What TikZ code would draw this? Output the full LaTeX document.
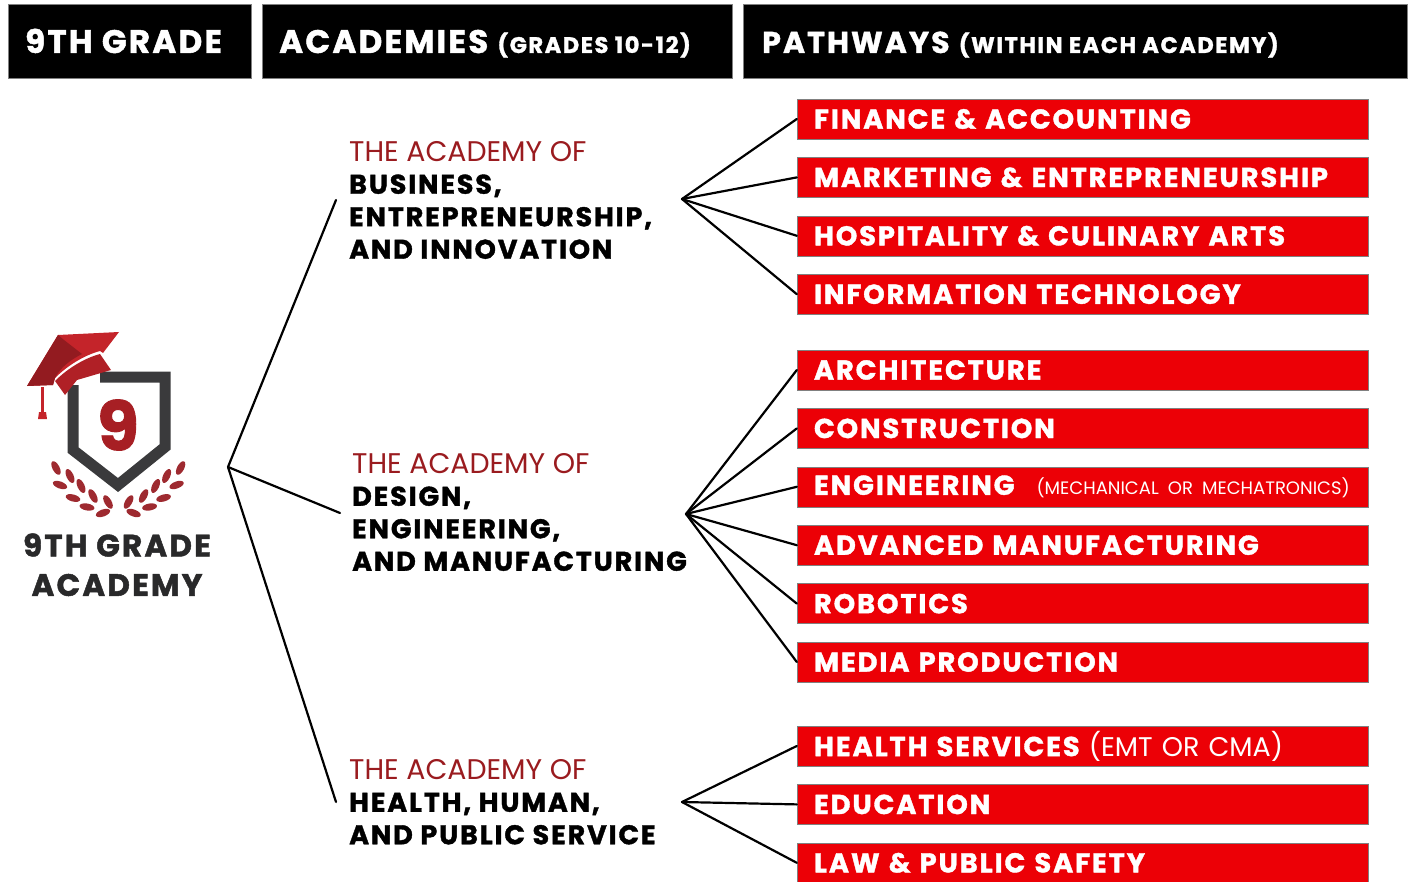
\documentclass[tikz,border=0pt]{standalone}
\usepackage{fontspec}
\setmainfont{Poppins}
\newfontfamily\heavyfont[FakeBold=1.4, LetterSpace=7]{Poppins Bold}
\usetikzlibrary{positioning}
\definecolor{pathred}{HTML}{EC0006}
\definecolor{titlered}{HTML}{9A1B1F}
\definecolor{logored}{HTML}{C4242A}
\definecolor{leafred}{HTML}{9E2A30}
\definecolor{logodark}{HTML}{3A3A3C}
\tikzset{
	>=stealth,
	headbox/.style={
		rectangle,
		fill=black,
		draw=gray,
		thin,
		minimum height=74pt,
		anchor=west,
		text=white},
	headtext/.style={
		anchor=base west,
		text=white,
		inner sep=0pt,
		font=\heavyfont\fontsize{32.5}{32}\selectfont},
	pathway/.style={
		rectangle,
		fill=pathred,
		draw=gray,
		thin,
		minimum width=571pt,
		minimum height=40pt,
		text width=537pt,
		inner sep=0pt,
		align=left,
		text=white,
		font=\heavyfont\fontsize{27.3}{27}\selectfont},
	academy/.style={
		anchor=north west,
		inner sep=0pt,
		align=left,
		font=\heavyfont\fontsize{27}{32.5}\selectfont},
	link/.style={draw, line width=2.2pt, line cap=round},
	leaf/.style={fill=leafred, draw=none},
	logotext/.style={inner sep=0pt, text=logodark!70!black, font=\heavyfont\fontsize{31}{31}\selectfont},
}
\newcommand{\academytitle}{{\color{titlered}\fontspec{Poppins}\fontsize{28.4}{32.5}\selectfont THE ACADEMY OF}}
\begin{document}
\begin{tikzpicture}[x=1pt,y=-1pt,node distance=18pt]
\useasboundingbox (0,0) rectangle (1413,882);
\node[headbox, minimum width=243pt] (grade) at (8,41) {};
\node[headbox, minimum width=470pt] (academies) at (262,41) {};
\node[headbox, minimum width=664pt] (pathways) at (743,41) {};
\node[headtext] (gradetext) at (25,53) {9TH GRADE};
\node[headtext] (academiestext) at (279,53) {ACADEMIES {\fontsize{22.5}{24}\selectfont (GRADES 10-12)}};
\node[headtext] (pathwaystext) at (762,53) {{\fontsize{30}{32}\selectfont PATHWAYS} {\fontsize{22.5}{24}\selectfont (WITHIN EACH ACADEMY)}};

\node[academy] (business) at (349,141) {\academytitle\\BUSINESS,\\ENTREPRENEURSHIP,\\AND INNOVATION};
\node[academy] (design) at (352,453) {\academytitle\\DESIGN,\\ENGINEERING,\\AND MANUFACTURING};
\node[academy] (health) at (349,759) {\academytitle\\HEALTH, HUMAN,\\AND PUBLIC SERVICE};

\node[pathway] (finance) at (1082.5,119) {FINANCE \& ACCOUNTING};
\node[pathway, below=of finance] (marketing) {MARKETING \& ENTREPRENEURSHIP};
\node[pathway, below=of marketing] (hospitality) {HOSPITALITY \& CULINARY ARTS};
\node[pathway, below=of hospitality] (information) {INFORMATION TECHNOLOGY};

\node[pathway] (architecture) at (1082.5,370) {ARCHITECTURE};
\node[pathway, below=of architecture] (construction) {CONSTRUCTION};
\node[pathway, below=of construction] (engineering) {ENGINEERING\hspace{22pt}{\fontspec{Poppins}\fontsize{18}{18}\selectfont (MECHANICAL OR MECHATRONICS)}};
\node[pathway, below=of engineering] (manufacturing) {ADVANCED MANUFACTURING};
\node[pathway, below=of manufacturing] (robotics) {ROBOTICS};
\node[pathway, below=of robotics] (media) {MEDIA PRODUCTION};

\node[pathway] (services) at (1082.5,746) {HEALTH SERVICES {\fontspec{Poppins}\fontsize{27}{27}\selectfont (EMT OR CMA)}};
\node[pathway, below=of services] (education) {EDUCATION};
\node[pathway, below=of education] (law) {LAW \& PUBLIC SAFETY};

\coordinate (rootfan) at (228,467);
\coordinate (businessin) at (336,200);
\coordinate (designin) at (340,513);
\coordinate (healthin) at (336,802);
\coordinate (businessfan) at (682,199);
\coordinate (designfan) at (686,514);
\coordinate (healthfan) at (682,802);

\draw[link] (rootfan) -- (businessin);
\draw[link] (rootfan) -- (designin);
\draw[link] (rootfan) -- (healthin);
\draw[link] (businessfan) -- (finance.west);
\draw[link] (businessfan) -- (marketing.west);
\draw[link] (businessfan) -- (hospitality.west);
\draw[link] (businessfan) -- (information.west);
\draw[link] (designfan) -- (architecture.west);
\draw[link] (designfan) -- (construction.west);
\draw[link] (designfan) -- (engineering.west);
\draw[link] (designfan) -- (manufacturing.west);
\draw[link] (designfan) -- (robotics.west);
\draw[link] (designfan) -- (media.west);
\draw[link] (healthfan) -- (services.west);
\draw[link] (healthfan) -- (education.west);
\draw[link] (healthfan) -- (law.west);

% logo
\draw[logodark, line width=11pt, line join=miter] (100,377) -- (165,377) -- (165,447) -- (118,485) -- (73,450) -- (73,385);
\fill[logored] (27,386) -- (58,335) -- (119,332) -- (103,353) -- (100,351) .. controls (85,355) and (68,365) .. (55,378) -- (53,385) -- cycle;
\fill[logored!75!black] (58,335) -- (64,340) -- (82,354) .. controls (70,360) and (60,368) .. (55,378) -- (53,385) -- (27,386) -- cycle;
\fill[logored!90!black] (55,381) .. controls (68,368) and (85,358) .. (100,354) -- (111,370) -- (77,380) -- (65,395) -- cycle;
\draw[logored, line width=3.5pt] (42.7,387) -- (42.7,414);
\fill[logored] (38,419) -- (39,412) -- (46,412) -- (47,419) -- cycle;
\node[inner sep=0pt, text=logored!85!black, font=\heavyfont\fontsize{68}{68}\selectfont] (nine) at (118,425) {9};
\foreach \lx/\ly/\la in {56/468/-62,70/476/-65,81/486/-65,93/496/-62,108/502/-60,60/485/-20,73/498/-15,87/507/-10,103/513/20}{
	\fill[leaf, rotate around={\la:(\lx,\ly)}] (\lx,\ly) ellipse (7.5pt and 3.5pt);
	\fill[leaf, rotate around={-\la:(236.6-\lx,\ly)}] (236.6-\lx,\ly) ellipse (7.5pt and 3.5pt);
}
\node[logotext] (logotop) at (117,545) {9TH GRADE};
\node[logotext] (logobottom) at (117,585) {ACADEMY};
\end{tikzpicture}
\end{document}
